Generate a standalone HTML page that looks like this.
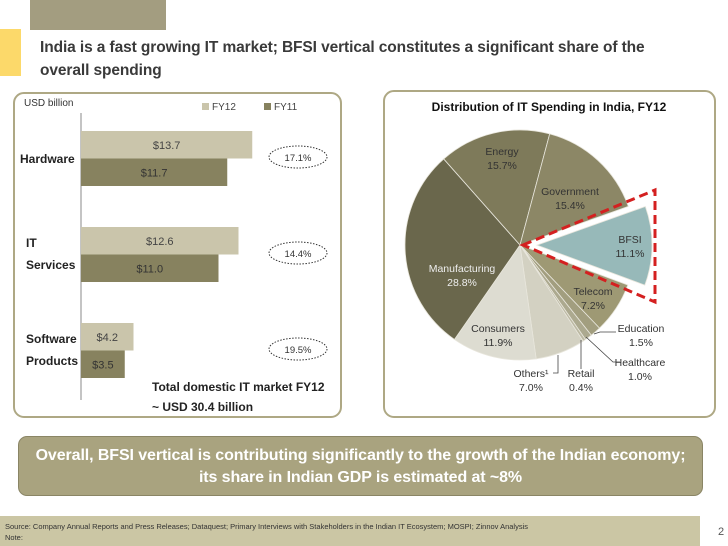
<!DOCTYPE html>
<html><head><meta charset="utf-8"><style>
body{margin:0;width:728px;height:546px;overflow:hidden;background:#fff;font-family:"Liberation Sans",sans-serif;position:relative}
.a{position:absolute}
</style></head><body>
<div class="a" style="left:30px;top:0;width:136px;height:30px;background:#a39d80"></div>
<div class="a" style="left:0;top:29px;width:21px;height:47px;background:#fcd96a"></div>
<div class="a" style="left:40px;top:36px;width:680px;font-size:15.5px;font-weight:bold;color:#3a3a3a;line-height:23px;letter-spacing:-0.1px;white-space:nowrap">India is a fast growing IT market; BFSI vertical constitutes a significant share of the<br>overall spending</div>
<svg class="a" style="left:0;top:0" width="728" height="546">
<rect x="14" y="93" width="327" height="324" rx="10" fill="none" stroke="#aea884" stroke-width="2"/>
<rect x="384" y="91" width="331" height="326" rx="10" fill="none" stroke="#aea884" stroke-width="2"/>
<g id="bars"></g><g id="pie"></g>
</svg>
<div class="a" style="left:18px;top:436px;width:685px;height:60px;background:#a9a37f;border:1px solid #8a8565;border-radius:9px;color:#fff;font-weight:bold;font-size:16px;text-align:center;line-height:22px;padding-top:8px;box-sizing:border-box;letter-spacing:-0.1px;white-space:nowrap">Overall, BFSI vertical is contributing significantly to the growth of the Indian economy;<br>its share in Indian GDP is estimated at ~8%</div>
<div class="a" style="left:0;top:516px;width:700px;height:30px;background:#cbc6a4;font-size:7.5px;color:#333;padding:5px 0 0 5px;box-sizing:border-box;line-height:11px">Source: Company Annual Reports and Press Releases; Dataquest; Primary Interviews with Stakeholders in the Indian IT Ecosystem; MOSPI; Zinnov Analysis<br>Note:</div>
<div class="a" style="left:718px;top:526px;font-size:11px;color:#555">2</div>
<script>
const categories=["Hardware","IT Services","Software Products"];
const fy12=[13.7,12.6,4.2];
const fy11=[11.7,11.0,3.5];
const growth=["17.1%","14.4%","19.5%"];
const sectors=["BFSI","Telecom","Education","Healthcare","Retail","Others","Consumers","Manufacturing","Energy","Government"];
const shares=[11.1,7.2,1.5,1.0,0.4,7.0,11.9,28.8,15.7,15.4];
const NS="http://www.w3.org/2000/svg";
function mk(t,a,p,txt){const e=document.createElementNS(NS,t);for(const k in a)e.setAttribute(k,a[k]);if(txt!==undefined)e.textContent=txt;p.appendChild(e);return e;}
const B=document.getElementById('bars');
const x0=81,sc=12.5,ys=[131,227,323],bh=27.5;
const xs=v=>x0+v*sc;
let ax=mk('line',{x1:x0,y1:113,x2:x0,y2:400,stroke:'#888','stroke-width':1},B);

let t=mk('text',{x:24,y:106,'font-size':10,fill:'#333'},B,'USD billion');

[[202,'#cac5ab','FY12'],[264,'#87825f','FY11']].forEach(([x,c,l])=>{
 let r=mk('rect',{x:x,y:103,width:7,height:7,fill:c},B);
 let tt=mk('text',{x:x+10,y:110,'font-size':10,fill:'#444'},B,l);
});
const catLines=[["Hardware"],["IT","Services"],["Software","Products"]];
categories.forEach((c,i)=>{
 const y=ys[i];
 let r1=mk('rect',{x:x0,y:y,width:xs(fy12[i])-x0,height:bh,fill:'#cac5ab'},B);
 
 let r2=mk('rect',{x:x0,y:y+bh,width:xs(fy11[i])-x0,height:bh,fill:'#87825f'},B);
 
 let l1=mk('text',{x:(x0+xs(fy12[i]))/2,y:y+18,'font-size':11,fill:'#444','text-anchor':'middle'},B,'$'+fy12[i].toFixed(1));
 
 let l2=mk('text',{x:(x0+xs(fy11[i]))/2,y:y+bh+18,'font-size':11,fill:'#333','text-anchor':'middle'},B,'$'+fy11[i].toFixed(1));
 
 const ln=catLines[i];
 ln.forEach((s,j)=>{let ct=mk('text',{x:ln.length==1?20:26,y:y+(ln.length==1?32:20+j*22),'font-size':12,'font-weight':'bold',fill:'#222'},B,s);
 });
 let ov=mk('ellipse',{cx:298,cy:y+26,rx:29,ry:11,fill:'none',stroke:'#333','stroke-width':1,'stroke-dasharray':'1.5,1.5'},B);
 
 let g=mk('text',{x:298,y:y+30,'font-size':9.5,fill:'#333','text-anchor':'middle'},B,growth[i]);
 
});
[['Total domestic IT market FY12',391],['~ USD 30.4 billion',411]].forEach(([s,y])=>{let tt=mk('text',{x:152,y:y,'font-size':12,'font-weight':'bold',fill:'#222'},B,s);});
// pie
const P=document.getElementById('pie');
let pt=mk('text',{x:549,y:111,'font-size':12,'font-weight':'bold',fill:'#111','text-anchor':'middle'},P,'Distribution of IT Spending in India, FY12');

const cx=520,cy=245,R=115,start=-19.6;
const colors=['#97b9b9','#9e9974','#a29e7f','#aca98f','#bcb9a3','#d3d1c2','#dddcd1','#6a674c','#7e7a5a','#8c8766'];
const tot=shares.reduce((a,b)=>a+b,0);
let ang=start;const rad=d=>d*Math.PI/180;
shares.forEach((v,i)=>{
 const a0=ang,a1=ang+v/tot*360;ang=a1;
 let ox=0,oy=0;if(i===0){const m=rad((a0+a1)/2);ox=17*Math.cos(m);oy=17*Math.sin(m);}
 const X=cx+ox,Y=cy+oy;
 const d=`M${X},${Y}L${X+R*Math.cos(rad(a0))},${Y+R*Math.sin(rad(a0))}A${R},${R} 0 ${a1-a0>180?1:0} 1 ${X+R*Math.cos(rad(a1))},${Y+R*Math.sin(rad(a1))}Z`;
 let p=mk('path',{d:d,fill:colors[i],stroke:'#e8e6dc','stroke-width':0.8},P);
 
});
let tri=mk('polygon',{points:'523,245 655,190 655,302',fill:'none',stroke:'#d42020','stroke-width':3,'stroke-dasharray':'9,5'},P);

const labs=[["Energy",502,155,'#333'],["Government",570,195,'#333'],["BFSI",630,243,'#333'],["Manufacturing",462,272,'#eee'],["Telecom",593,295,'#333'],["Consumers",498,332,'#333'],["Education",641,332,'#333'],["Healthcare",640,366,'#333'],["Retail",581,377,'#333'],["Others¹",531,377,'#333']];
labs.forEach(([n,x,y,c])=>{const i=sectors.indexOf(n.replace('¹',''));
 let a=mk('text',{x:x,y:y,'font-size':10.5,fill:c,'text-anchor':'middle'},P,n);
 
 let b=mk('text',{x:x,y:y+14,'font-size':10.5,fill:c,'text-anchor':'middle'},P,shares[i].toFixed(1)+'%');
 });
[['M594,334 L600,332 L616,332'],['M586,337 L613,362 L620,362'],['M581,340 L581,369'],['M558,355 L558,373 L553,373']].forEach(([d])=>{let l=mk('path',{d:d,fill:'none',stroke:'#444','stroke-width':0.8},P);});
</script>
</body></html>
